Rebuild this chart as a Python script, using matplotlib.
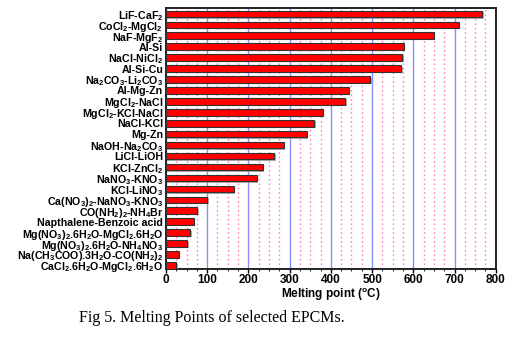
import numpy as np
import matplotlib.pyplot as plt
import matplotlib.patheffects as pe
from matplotlib.ticker import MultipleLocator

plt.rcParams['font.family'] = ['Liberation Sans', 'DejaVu Sans']
plt.rcParams['font.weight'] = 'bold'
plt.rcParams['mathtext.fontset'] = 'custom'
plt.rcParams['mathtext.rm'] = 'Liberation Sans:bold'
plt.rcParams['mathtext.it'] = 'Liberation Sans:bold'
plt.rcParams['mathtext.bf'] = 'Liberation Sans:bold'
plt.rcParams['mathtext.default'] = 'rm'

# PCM names, top of the chart first
materials = [
    'LiF-CaF$_2$',
    'CoCl$_2$-MgCl$_2$',
    'NaF-MgF$_2$',
    'Al-Si',
    'NaCl-NiCl$_2$',
    'Al-Si-Cu',
    'Na$_2$CO$_3$-Li$_2$CO$_3$',
    'Al-Mg-Zn',
    'MgCl$_2$-NaCl',
    'MgCl$_2$-KCl-NaCl',
    'NaCl-KCl',
    'Mg-Zn',
    'NaOH-Na$_2$CO$_3$',
    'LiCl-LiOH',
    'KCl-ZnCl$_2$',
    'NaNO$_3$-KNO$_3$',
    'KCl-LiNO$_3$',
    'Ca(NO$_3$)$_2$-NaNO$_3$-KNO$_3$',
    'CO(NH$_2$)$_2$-NH$_4$Br',
    'Napthalene-Benzoic acid',
    'Mg(NO$_3$)$_2$.6H$_2$O-MgCl$_2$.6H$_2$O',
    'Mg(NO$_3$)$_2$.6H$_2$O-NH$_4$NO$_3$',
    'Na(CH$_3$COO).3H$_2$O-CO(NH$_2$)$_2$',
    'CaCl$_2$.6H$_2$O-MgCl$_2$.6H$_2$O',
]

# melting points in deg C
melting_points = [767, 710, 650, 577, 573, 571, 496, 443, 435, 380, 360, 341,
                  286, 263, 235, 220, 165, 100, 76, 67, 59, 52, 31, 25]

fig = plt.figure(figsize=(5.17, 3.47), dpi=100)
ax = fig.add_axes([0.321, 0.225, 0.638, 0.753])

ypos = np.arange(len(materials))[::-1]
bars = ax.barh(ypos, melting_points, height=0.6, color='#ff0000',
               edgecolor='#333333', linewidth=0.8, zorder=3)
for b in bars:
    b.set_path_effects([pe.SimplePatchShadow(offset=(1, -1), shadow_rgbFace='#888888', alpha=0.7),
                        pe.Normal()])

ax.set_xlim(0, 800)
ax.set_ylim(-0.32, len(materials) - 1 + 0.57)
ax.xaxis.set_major_locator(MultipleLocator(100))
ax.xaxis.set_minor_locator(MultipleLocator(25))
ax.set_axisbelow(True)
ax.grid(which='major', axis='x', color='#8c8cff', linewidth=1.0)
ax.grid(which='minor', axis='x', color='#ff80c0', linewidth=1.0, linestyle=(0, (1.2, 2.0)),
        snap=True)

ax.set_yticks(ypos)
ax.set_yticklabels(materials, fontsize=7.7)
ax.tick_params(axis='y', length=0, pad=2)
ax.tick_params(axis='x', which='major', length=3, width=1, labelsize=8.5, pad=1)
ax.tick_params(axis='x', which='minor', length=1.5, width=0.6)
for lab in ax.get_xticklabels():
    lab.set_fontweight('bold')

for s in ax.spines.values():
    s.set_linewidth(1.4)
    s.set_color('#222222')

ax.set_xlabel('Melting point ($^{o}$C)', fontsize=8.5, fontweight='bold', labelpad=0)

fig.text(0.1525, 0.072, 'Fig 5. Melting Points of selected EPCMs.',
         fontsize=11.5, family='Liberation Serif', fontweight='normal')

fig.savefig('out.png', dpi=100)
